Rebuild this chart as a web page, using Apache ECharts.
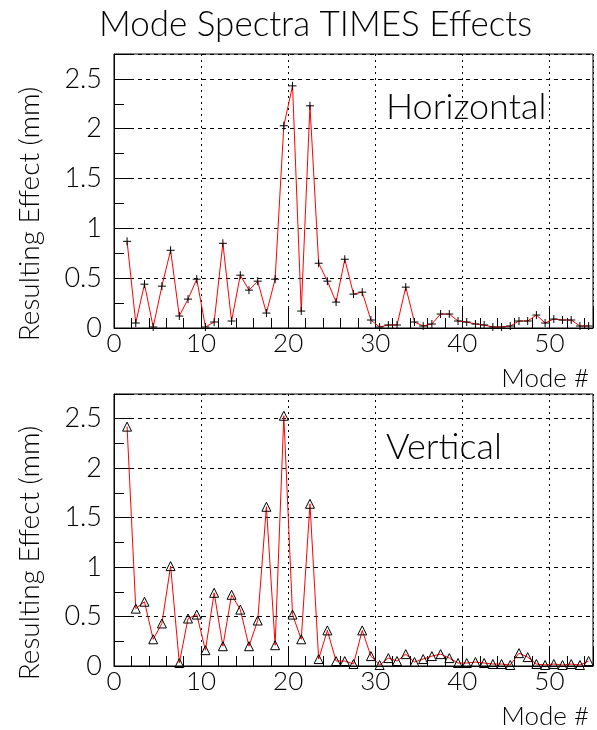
<!DOCTYPE html>
<html>
<head>
<meta charset="utf-8">
<script src="https://cdn.jsdelivr.net/npm/echarts@6/dist/echarts.min.js"></script>
<style>
  html, body { margin: 0; padding: 0; background: #fff; }
  #chart { width: 597px; height: 730px; }
</style>
</head>
<body>
<div id="chart"></div>
<script>
// mode positions (bin centres) and read-off effects in mm
const modes = Array.from({ length: 54 }, (_, i) => i + 1.5);
const horizontal = [
  0.87, 0.05, 0.44, 0.01, 0.42, 0.78, 0.12, 0.29, 0.49, 0.01,
  0.06, 0.85, 0.07, 0.53, 0.38, 0.47, 0.15, 0.49, 2.03, 2.43,
  0.17, 2.23, 0.65, 0.47, 0.26, 0.69, 0.34, 0.36, 0.08, 0.01,
  0.03, 0.03, 0.41, 0.06, 0.02, 0.04, 0.14, 0.14, 0.07, 0.06,
  0.04, 0.03, 0.01, 0.01, 0.02, 0.07, 0.07, 0.13, 0.05, 0.09,
  0.08, 0.08, 0.02, 0.02
];
const vertical = [
  2.42, 0.58, 0.65, 0.27, 0.43, 1.01, 0.03, 0.48, 0.52, 0.16,
  0.74, 0.20, 0.72, 0.57, 0.20, 0.46, 1.61, 0.21, 2.53, 0.52,
  0.27, 1.64, 0.07, 0.36, 0.05, 0.05, 0.02, 0.36, 0.10, 0.01,
  0.08, 0.05, 0.12, 0.04, 0.07, 0.10, 0.12, 0.08, 0.03, 0.03,
  0.04, 0.03, 0.02, 0.02, 0.01, 0.13, 0.09, 0.02, 0.01, 0.02,
  0.01, 0.02, 0.01, 0.05
];
const panelNames = ['Horizontal', 'Vertical'];

const font = 'Lato';
const chart = echarts.init(document.getElementById('chart'));

function xAxis(gridIndex) {
  return {
    type: 'value', gridIndex: gridIndex, min: 0, max: 55, interval: 10,
    name: 'Mode #', nameLocation: 'end', nameGap: -4,
    nameTextStyle: { color: '#000', fontFamily: font, fontWeight: 300, fontSize: 26,
      align: 'right', verticalAlign: 'top', padding: [38, 0, 0, 0] },
    axisLine: { lineStyle: { color: '#000', width: 1 } },
    axisTick: { inside: true, length: 20, lineStyle: { color: '#000' } },
    minorTick: { show: true, splitNumber: 5, length: 10, lineStyle: { color: '#000' } },
    axisLabel: { color: '#000', fontFamily: font, fontWeight: 300, fontSize: 26, margin: 3, showMaxLabel: false },
    splitLine: { show: true, lineStyle: { color: '#000', type: [2, 4], width: 1 } }
  };
}
function yAxis(gridIndex) {
  return {
    type: 'value', gridIndex: gridIndex, min: 0, max: 2.75, interval: 0.5,
    name: 'Resulting Effect (mm)', nameLocation: 'middle', nameGap: 70,
    nameTextStyle: { color: '#000', fontFamily: font, fontWeight: 300, fontSize: 28,
      padding: [0, 46, 0, 0] },
    axisLine: { lineStyle: { color: '#000', width: 1 } },
    axisTick: { inside: true, length: 20, lineStyle: { color: '#000' } },
    minorTick: { show: true, splitNumber: 2, length: 10, lineStyle: { color: '#000' } },
    axisLabel: { color: '#000', fontFamily: font, fontWeight: 300, fontSize: 27, margin: 12, showMaxLabel: false },
    splitLine: { show: true, lineStyle: { color: '#000', type: [4, 4], width: 1 } }
  };
}
function series(idx, values, symbol, size) {
  return {
    type: 'line', xAxisIndex: idx, yAxisIndex: idx,
    data: modes.map((m, i) => [m, values[i]]),
    symbol: symbol, symbolSize: size, showAllSymbol: true,
    lineStyle: { color: '#ff0000', width: 1 },
    itemStyle: { color: 'rgba(0,0,0,0)', borderColor: '#000', borderWidth: 1 },
    emphasis: { disabled: true },
    z: 3
  };
}

const option = {
  animation: false,
  title: {
    text: 'Mode Spectra TIMES Effects', left: 94, top: 2,
    textStyle: { color: '#000', fontFamily: font, fontWeight: 300, fontSize: 35 }
  },
  grid: [
    { left: 114, top: 54, width: 479, height: 274, show: true, borderColor: '#000', borderWidth: 1 },
    { left: 114, top: 394, width: 479, height: 274, show: true, borderColor: '#000', borderWidth: 1 }
  ],
  xAxis: [xAxis(0), xAxis(1)],
  yAxis: [yAxis(0), yAxis(1)],
  graphic: [
    { type: 'text', left: 386, top: 89, style: { text: panelNames[0], fill: '#000', font: '300 36px Lato' } },
    { type: 'text', left: 386, top: 429, style: { text: panelNames[1], fill: '#000', font: '300 36px Lato' } }
  ],
  series: [
    series(0, horizontal, 'path://M0,5L10,5M5,0L5,10', 8),
    series(1, vertical, 'triangle', 9)
  ]
};
chart.setOption(option);
</script>
</body>
</html>
